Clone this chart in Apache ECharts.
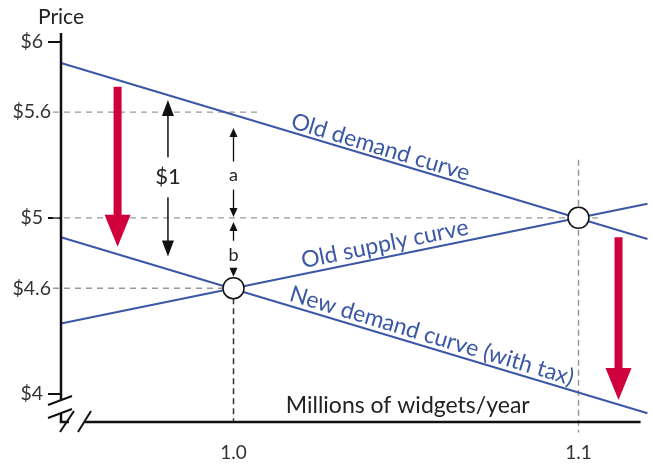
<!DOCTYPE html>
<html><head><meta charset="utf-8">
<script src="https://cdn.jsdelivr.net/npm/echarts@6/dist/echarts.min.js"></script>
<style>html,body{margin:0;padding:0;background:#fff}#c{width:653px;height:465px}</style>
</head><body><div id="c"></div>
<script>
// ---- data ----
const quantityRange = [0.95, 1.12];
const priceRange = [3.84, 6.05];
const oldDemand = [[0.95, 5.88], [1.12, 4.88]];
const newDemand = [[0.95, 4.89], [1.12, 3.89]];
const oldSupply = [[0.95, 4.40], [1.12, 5.08]];
const equilibria = [[1.0, 4.6], [1.1, 5.0]];
const priceTicks = [4, 4.6, 5, 5.6, 6];
const priceMajorTicks = [4, 5, 6];
const quantityTicks = [1.0, 1.1];
const curveLabels = ['Old demand curve', 'Old supply curve', 'New demand curve (with tax)'];
const curveLabelAt = [1.0417, 1.0446, 1.0565];
// shift arrows: [quantity, fromPrice, toPrice]
const shiftArrows = [[0.9664, 5.745, 4.835], [1.1116, 4.89, 3.965]];
// measurement arrows: [label, quantity, topPrice, bottomPrice, labelPrice]
const measureArrows = [['$1', 0.981, 5.67, 4.78, 5.23], ['a', 1.0, 5.51, 5.005, 5.24], ['b', 1.0, 4.976, 4.665, 4.79]];
// guide lines
const priceGuides = [[0.95, 5.6, 1.0072], [0.95, 5.0, 1.106], [0.95, 4.6, 1.0]];
const quantityGuides = [[1.0, 4.6, 3.84], [1.1, 5.33, 3.78]];
const xAxisTitle = 'Millions of widgets/year';
const yAxisTitle = 'Price';

(function () {
const BLUE = '#3b57a5', RED = '#d0003c', FONT = 'Lato';
const chart = echarts.init(document.getElementById('c'), null, {renderer: 'canvas'});
const fmtPrice = v => {
  const s = Number.isInteger(v) ? String(v) : v.toFixed(1);
  return Number.isInteger(v) ? '{i|$' + s + '}' : '{d|$' + s + '}';
};
chart.setOption({
  animation: false,
  grid: {left: 61, right: 5.5, top: 33, bottom: 43, containLabel: false, outerBoundsMode: 'none'},
  xAxis: {type: 'value', min: quantityRange[0], max: quantityRange[1],
    axisLine: {show: false}, splitLine: {show: false}, axisTick: {show: false},
    axisLabel: {customValues: quantityTicks, formatter: v => v.toFixed(1), margin: 21,
      fontFamily: FONT, fontSize: 19, color: '#333'}},
  yAxis: {type: 'value', min: priceRange[0], max: priceRange[1],
    name: yAxisTitle, nameLocation: 'end', nameGap: 5,
    nameTextStyle: {fontFamily: FONT, fontSize: 21, color: '#222', align: 'center'},
    axisLine: {show: false}, splitLine: {show: false},
    axisTick: {show: true, customValues: priceMajorTicks, length: 13, lineStyle: {color: '#111', width: 2}},
    axisLabel: {customValues: priceTicks, formatter: fmtPrice, margin: 10,
      rich: {i: {fontFamily: FONT, fontSize: 19.5, color: '#333', padding: [0, 8, 0, 0]},
             d: {fontFamily: FONT, fontSize: 19.5, color: '#333'}}}},
  series: [
    {type: 'line', data: oldDemand, symbol: 'none', lineStyle: {color: BLUE, width: 2}, z: 3},
    {type: 'line', data: newDemand, symbol: 'none', lineStyle: {color: BLUE, width: 2}, z: 3},
    {type: 'line', data: oldSupply, symbol: 'none', lineStyle: {color: BLUE, width: 2}, z: 3},
    {type: 'scatter', data: equilibria, symbol: 'circle', symbolSize: 21,
      itemStyle: {color: '#fff', borderColor: '#111', borderWidth: 1.5, opacity: 1}, z: 10}
  ]
});

const P = (q, p) => chart.convertToPixel({gridIndex: 0}, [q, p]);
const g = [];
const line = (a, b, style, z) => g.push({type: 'line', shape: {x1: a[0], y1: a[1], x2: b[0], y2: b[1]}, style: style, z: z || 1, silent: true});
const poly = (pts, fill, z) => g.push({type: 'polygon', shape: {points: pts}, style: {fill: fill}, z: z || 20, silent: true});
const text = (x, y, s, st, rot, z) => g.push({type: 'text', x: x, y: y, rotation: rot || 0, z: z || 20, silent: true,
  style: Object.assign({text: s, textAlign: 'center', textVerticalAlign: 'middle', fontFamily: FONT}, st)});

// axes with breaks
const axTop = P(quantityRange[0], priceRange[1]);
const corner = P(quantityRange[0], priceRange[0]);
const x0 = corner[0], yB = corner[1];
const xEnd = P(1.118, priceRange[0])[0];
const axSt = {stroke: '#111', lineWidth: 2.5};
line([x0, axTop[1]], [x0, yB - 22], axSt, 30);
line([x0 - 13, yB - 17], [x0 + 11, yB - 26], {stroke: '#111', lineWidth: 2}, 30);
line([x0 - 13, yB - 4], [x0 + 11, yB - 13], {stroke: '#111', lineWidth: 2}, 30);
line([x0, yB - 8], [x0, yB], axSt, 30);
line([x0 - 1.2, yB], [x0 + 8, yB], axSt, 30);
line([x0 - 1, yB + 10], [x0 + 13, yB - 11], {stroke: '#111', lineWidth: 2}, 30);
line([x0 + 17, yB + 10], [x0 + 30, yB - 11], {stroke: '#111', lineWidth: 2}, 30);
line([x0 + 24, yB], [xEnd, yB], axSt, 30);

// guide lines
priceGuides.forEach(gd => {
  const a = P(gd[0], gd[1]), b = P(gd[2], gd[1]);
  line([a[0] - 8, a[1]], b, {stroke: '#999', lineWidth: 1.3, lineDash: [6, 5]}, 1);
});
quantityGuides.forEach((gd, i) => {
  line(P(gd[0], gd[1]), P(gd[0], gd[2]), {stroke: i === 0 ? '#333' : '#999', lineWidth: 1.5, lineDash: [6, 4]}, 1);
});

// curve labels
const offs = [11, 13, 12];
[oldDemand, oldSupply, newDemand].forEach((c, i) => {
  const a = P(c[0][0], c[0][1]), b = P(c[1][0], c[1][1]);
  const ang = Math.atan2(b[1] - a[1], b[0] - a[0]);
  const q = curveLabelAt[i];
  const t = (q - c[0][0]) / (c[1][0] - c[0][0]);
  const pt = P(q, c[0][1] + t * (c[1][1] - c[0][1]));
  const off = offs[i];
  text(pt[0] + off * Math.sin(ang), pt[1] - off * Math.cos(ang), curveLabels[i],
    {fontSize: 23, fill: BLUE}, -ang, 15);
});

// red shift arrows
shiftArrows.forEach(s => {
  const a = P(s[0], s[1]), b = P(s[0], s[2]);
  const hl = 32, hw = 13, sw = 4;
  poly([[a[0] - sw, a[1]], [a[0] + sw, a[1]], [a[0] + sw, b[1] - hl + 1], [a[0] - sw, b[1] - hl + 1]], RED, 20);
  poly([[b[0] - hw, b[1] - hl], [b[0] + hw, b[1] - hl], [b[0], b[1]]], RED, 20);
});

// measurement arrows
measureArrows.forEach(m => {
  const big = m[0] === '$1';
  const t = P(m[1], m[2]), b = P(m[1], m[3]), l = P(m[1], m[4]);
  const hl = big ? 16 : 9, hw = big ? 6 : 4, gap = big ? 20 : 14;
  const st = {stroke: '#111', lineWidth: big ? 1.5 : 1.3};
  if (l[1] - gap > t[1] + hl) line([t[0], t[1] + hl - 1], [t[0], l[1] - gap], st, 20);
  if (l[1] + gap < b[1] - hl) line([b[0], l[1] + gap], [b[0], b[1] - hl + 1], st, 20);
  poly([[t[0] - hw, t[1] + hl], [t[0] + hw, t[1] + hl], [t[0], t[1]]], '#111', 20);
  poly([[b[0] - hw, b[1] - hl], [b[0] + hw, b[1] - hl], [b[0], b[1]]], '#111', 20);
  text(l[0], l[1], m[0], {fontSize: big ? 22 : 18, fill: '#222'}, 0, 20);
});

// x axis title
const xt = P(1.0505, priceRange[0]);
text(xt[0], yB - 16, xAxisTitle, {fontSize: 23, fill: '#222'}, 0, 20);

chart.setOption({graphic: {elements: g}});
})();
</script></body></html>
